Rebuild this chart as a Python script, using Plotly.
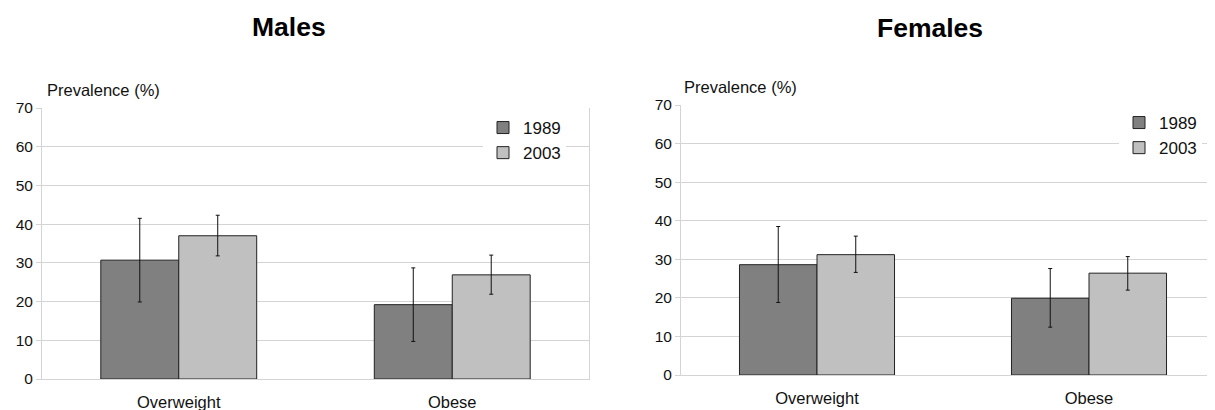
import plotly.graph_objects as go

# ---------------- data ----------------
categories = ["Overweight", "Obese"]
years = ["1989", "2003"]

males_1989 = [30.7, 19.2]
males_1989_err_up = [10.8, 9.5]
males_1989_err_down = [10.8, 9.5]
males_2003 = [37.0, 26.9]
males_2003_err_up = [5.3, 5.1]
males_2003_err_down = [5.2, 5.0]

females_1989 = [28.6, 19.9]
females_1989_err_up = [9.9, 7.7]
females_1989_err_down = [9.8, 7.5]
females_2003 = [31.2, 26.4]
females_2003_err_up = [4.8, 4.3]
females_2003_err_down = [4.6, 4.4]

y_ticks = [0, 10, 20, 30, 40, 50, 60, 70]
panel_titles = ["Males", "Females"]
y_title = "Prevalence (%)"

colors = {"1989": "#808080", "2003": "#c0c0c0"}
FONT = "Liberation Sans, Arial, sans-serif"
OFF = 8                      # page body margin
W, H = 1215 - OFF, 410 - OFF


def px_x(x):
    return (x - OFF) / W


def px_y(y):
    return (H - (y - OFF)) / H


fig = go.Figure()

panels = [
    ("x", "y", "legend", [(males_1989, males_1989_err_up, males_1989_err_down),
                          (males_2003, males_2003_err_up, males_2003_err_down)]),
    ("x2", "y2", "legend2", [(females_1989, females_1989_err_up, females_1989_err_down),
                             (females_2003, females_2003_err_up, females_2003_err_down)]),
]

for xa, ya, lg, series in panels:
    for yr, (vals, eu, ed) in zip(years, series):
        fig.add_trace(go.Bar(
            x=categories, y=vals, name=yr,
            xaxis=xa, yaxis=ya, legend=lg,
            marker=dict(color=colors[yr], line=dict(color="#222222", width=1)),
            error_y=dict(type="data", array=eu, arrayminus=ed, symmetric=False,
                         color="#111111", thickness=1, width=2),
        ))

grid_col = "#d4d4d4"
axis_common = dict(
    range=[0, 70], tickvals=y_ticks, showgrid=True, gridcolor=grid_col, gridwidth=1,
    showline=True, linecolor=grid_col, linewidth=1, ticks="outside", ticklen=5,
    tickcolor=grid_col, tickfont=dict(family=FONT, size=15.5, color="#111111"),
    zeroline=False, fixedrange=True, automargin=False,
)
xaxis_common = dict(
    type="category", showgrid=False, showline=True, linecolor=grid_col, linewidth=1,
    ticks="", tickfont=dict(family=FONT, size=16.5, color="#111111"), zeroline=False,
    ticklabelstandoff=8, automargin=False,
)

fig.update_layout(
    width=W, height=H,
    margin=dict(l=0, r=0, t=0, b=0, autoexpand=False),
    paper_bgcolor="white", plot_bgcolor="white",
    barmode="group", bargap=0.43, bargroupgap=0,
    showlegend=True,
    xaxis=dict(domain=[px_x(42), px_x(589)], range=[-0.5, 1.5], anchor="y", **xaxis_common),
    yaxis=dict(domain=[px_y(379), px_y(108)], anchor="x", mirror=True, **axis_common),
    xaxis2=dict(domain=[px_x(681), 1.0], range=[-0.5, -0.5 + 534 / 272], anchor="y2", **xaxis_common),
    yaxis2=dict(domain=[px_y(375), px_y(105)], anchor="x2", **axis_common),
    legend=dict(x=px_x(483), y=px_y(110), xanchor="left", yanchor="top",
                bgcolor="white", borderwidth=0, font=dict(family=FONT, size=17, color="#111111"),
                tracegroupgap=0, itemclick=False),
    legend2=dict(x=px_x(1119), y=px_y(105), xanchor="left", yanchor="top",
                 bgcolor="white", borderwidth=0, font=dict(family=FONT, size=17, color="#111111"),
                 tracegroupgap=0, itemclick=False),
    annotations=[
        dict(text="<b>%s</b>" % panel_titles[0], x=px_x(289), y=px_y(27), xref="paper", yref="paper",
             xanchor="center", yanchor="middle", showarrow=False,
             font=dict(family=FONT, size=26.5, color="#000000")),
        dict(text="<b>%s</b>" % panel_titles[1], x=px_x(930), y=px_y(28), xref="paper", yref="paper",
             xanchor="center", yanchor="middle", showarrow=False,
             font=dict(family=FONT, size=26.5, color="#000000")),
        dict(text=y_title, x=px_x(45), y=px_y(90), xref="paper", yref="paper",
             xanchor="left", yanchor="middle", showarrow=False,
             font=dict(family=FONT, size=16.5, color="#111111")),
        dict(text=y_title, x=px_x(682), y=px_y(87), xref="paper", yref="paper",
             xanchor="left", yanchor="middle", showarrow=False,
             font=dict(family=FONT, size=16.5, color="#111111")),
    ],
)

fig.write_html("out.html")
